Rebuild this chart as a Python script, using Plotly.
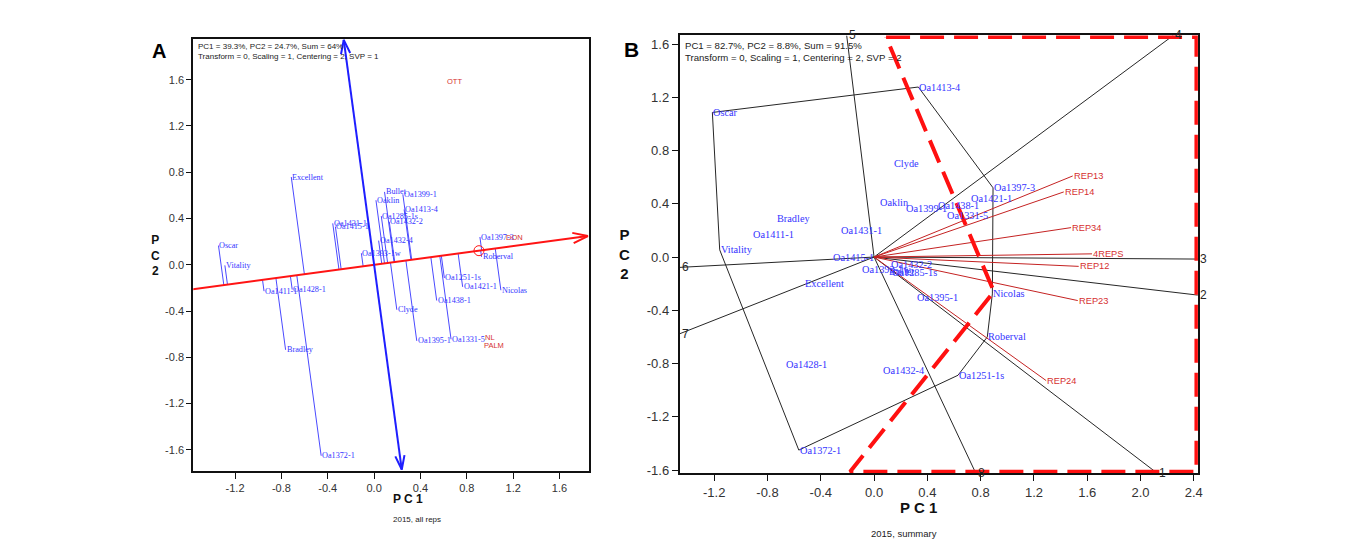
import math
import plotly.graph_objects as go

# ---------------- data ----------------
genotypes = ["Excellent", "Oscar", "Vitality", "Oa1431-1", "Oa1415-1", "Oa1411-1", "Oa1428-1",
             "Bradley", "Oa1372-1", "Bullet", "Oa1399-1", "Oaklin", "Oa1413-4", "Oa1285-1s",
             "Oa1432-2", "Oa1432-4", "Oa1393-1w", "Oa1397-3", "Roberval", "Nicolas", "Oa1251-1s",
             "Oa1421-1", "Oa1438-1", "Clyde", "Oa1395-1", "Oa1331-5"]

# Panel A: 2015, all reps (mean vs. stability view)
a_pc1 = [-0.715, -1.343, -1.288, -0.357, -0.334, -0.950, -0.707, -0.764, -0.457, 0.090, 0.248,
         0.016, 0.259, 0.062, 0.131, 0.039, -0.110, 0.913, 0.927, 1.094, 0.606, 0.764, 0.540,
         0.196, 0.368, 0.664]
a_pc2 = [0.759, 0.166, -0.005, 0.358, 0.330, -0.228, -0.214, -0.735, -1.651, 0.630, 0.609,
         0.558, 0.478, 0.421, 0.372, 0.209, 0.100, 0.240, 0.069, -0.220, -0.114, -0.191, -0.309,
         -0.389, -0.658, -0.644]
a_env = ["OTT", "DON", "NL", "PALM"]
a_env_pc1 = [0.617, 1.128, 0.950, 0.942]
a_env_pc2 = [1.588, 0.235, -0.629, -0.700]
a_mean_env = [0.905, 0.122]          # average environment (small circle)
a_aec_pc1_limits = [-1.60, 1.845]    # extent of the average-environment axis (PC1)
a_perp_pc2_limits = [-1.77, 1.945]   # extent of the perpendicular axis (PC2)
a_header = ["PC1 = 39.3%, PC2 = 24.7%, Sum = 64%",
            "Transform = 0, Scaling = 1, Centering = 2, SVP = 1"]

# Panel B: 2015, summary (which-won-where view)
b_pc1 = [-0.528, -1.214, -1.159, -0.259, -0.316, -0.915, -0.666, -0.733, -0.565, 0.105, 0.232,
         0.037, 0.332, 0.125, 0.117, 0.058, -0.097, 0.893, 0.850, 0.888, 0.630, 0.723, 0.469,
         0.145, 0.314, 0.539]
b_pc2 = [-0.195, 1.086, 0.054, 0.198, 0.000, 0.166, -0.808, 0.290, -1.450, -0.110, 0.365,
         0.407, 1.277, -0.118, -0.055, -0.849, -0.095, 0.520, -0.600, -0.277, -0.888, 0.439,
         0.389, 0.700, -0.301, 0.315]
b_env = ["REP13", "REP14", "REP34", "4REPS", "REP12", "REP23", "REP24"]
b_env_pc1 = [1.491, 1.424, 1.479, 1.636, 1.536, 1.529, 1.292]
b_env_pc2 = [0.609, 0.489, 0.221, 0.024, -0.070, -0.327, -0.928]
b_hull = ["Roberval", "Oa1251-1s", "Oa1372-1", "Vitality", "Oscar", "Oa1413-4", "Oa1397-3", "Nicolas"]
b_ray_labels = ["1", "8", "7", "6", "5", "4", "3", "2"]
b_sector_pc1 = [0.09, 2.42, 2.42, -0.18, 0.90, 0.09]
b_sector_pc2 = [1.652, 1.652, -1.612, -1.612, -0.26, 1.652]
b_header = ["PC1 = 82.7%, PC2 = 8.8%, Sum = 91.5%",
            "Transform = 0, Scaling = 1, Centering = 2, SVP = 2"]

a_xticks = [-1.2, -0.8, -0.4, 0.0, 0.4, 0.8, 1.2, 1.6]
a_yticks = [-1.6, -1.2, -0.8, -0.4, 0.0, 0.4, 0.8, 1.2, 1.6]
b_xticks = [-1.2, -0.8, -0.4, 0.0, 0.4, 0.8, 1.2, 1.6, 2.0, 2.4]
b_yticks = [-1.6, -1.2, -0.8, -0.4, 0.0, 0.4, 0.8, 1.2, 1.6]

# ---------------- layout geometry ----------------
W, H = 1360, 558
A_X, A_Y = [-1.5606, 1.853], [-1.7794, 1.9545]
B_X, B_Y = [-1.4585, 2.4308], [-1.6242, 1.6644]
A_DOM_X = [194 / W, 591 / W]
A_DOM_Y = [1 - 474 / H, 1 - 39 / H]
B_DOM_X = [682.3 / W, 1202.3 / W]
B_DOM_Y = [1 - 476.7 / H, 1 - 35.7 / H]

BLUE_TXT = "#3434ff"
BLUE_LN = "#4a4aff"
BLUE_AX = "#1e1eff"
RED_AX = "#ff1414"
RED_TXT = "#d63030"
RED_VEC = "#c42222"
BLACK = "#262626"

fig = go.Figure()
ann = []


def line(x, y, color, width, xa, ya, dash=None):
    fig.add_trace(go.Scatter(x=x, y=y, mode="lines", xaxis=xa, yaxis=ya, hoverinfo="skip",
                             line=dict(color=color, width=width, dash=dash), showlegend=False))


def vhead(tip, d, L, Hh):
    nx, ny = -d[1], d[0]
    bx, by = tip[0] - L * d[0], tip[1] - L * d[1]
    return ([bx + Hh * nx, tip[0], bx - Hh * nx], [by + Hh * ny, tip[1], by - Hh * ny])


def label(x, y, text, xref, yref, size, color, family, xanchor="left", xshift=0, yshift=0):
    ann.append(dict(x=x, y=y, xref=xref, yref=yref, text=text, showarrow=False,
                    xanchor=xanchor, yanchor="middle", xshift=xshift, yshift=yshift,
                    font=dict(size=size, color=color, family=family), borderpad=0))


# ---------------- Panel A ----------------
s = a_mean_env[1] / a_mean_env[0]
nrm = math.sqrt(1 + s * s)
u = (1 / nrm, s / nrm)
# projection lines genotype -> average environment axis
for gx, gy in zip(a_pc1, a_pc2):
    t = (gx + s * gy) / (1 + s * s)
    line([gx, t], [gy, s * t], BLUE_LN, 1, "x", "y")
# average environment axis with arrow
line([a_aec_pc1_limits[0], a_aec_pc1_limits[1]], [s * a_aec_pc1_limits[0], s * a_aec_pc1_limits[1]],
     RED_AX, 2, "x", "y")
hx, hy = vhead((a_aec_pc1_limits[1], s * a_aec_pc1_limits[1]), u, 0.13, 0.045)
line(hx, hy, RED_AX, 2, "x", "y")
# perpendicular axis with arrows at both ends
v = (-s / nrm, 1 / nrm)
top = (-s * a_perp_pc2_limits[1], a_perp_pc2_limits[1])
bot = (-s * a_perp_pc2_limits[0], a_perp_pc2_limits[0])
line([bot[0], top[0]], [bot[1], top[1]], BLUE_AX, 2, "x", "y")
hx, hy = vhead(top, v, 0.12, 0.04)
line(hx, hy, BLUE_AX, 2, "x", "y")
hx, hy = vhead(bot, (-v[0], -v[1]), 0.12, 0.04)
line(hx, hy, BLUE_AX, 2, "x", "y")
# average environment marker
fig.add_trace(go.Scatter(x=[a_mean_env[0]], y=[a_mean_env[1]], mode="markers", xaxis="x", yaxis="y",
                         marker=dict(symbol="circle-open", size=10, color=RED_AX, line=dict(width=1)),
                         hoverinfo="skip", showlegend=False))
for name, gx, gy in zip(genotypes, a_pc1, a_pc2):
    label(gx, gy, name, "x", "y", 8.2, BLUE_TXT, "Liberation Serif")
for name, ex, ey in zip(a_env, a_env_pc1, a_env_pc2):
    label(ex, ey, name, "x", "y", 7.5, RED_TXT, "Liberation Sans")

# ---------------- Panel B ----------------
pos = {g: (x, y) for g, x, y in zip(genotypes, b_pc1, b_pc2)}
hx_ = [pos[g][0] for g in b_hull] + [pos[b_hull[0]][0]]
hy_ = [pos[g][1] for g in b_hull] + [pos[b_hull[0]][1]]
line(hx_, hy_, BLACK, 1, "x2", "y2")
for i, lab in enumerate(b_ray_labels):
    p = pos[b_hull[i]]
    q = pos[b_hull[(i + 1) % len(b_hull)]]
    dx, dy = q[0] - p[0], q[1] - p[1]
    k = (p[0] * dx + p[1] * dy) / (dx * dx + dy * dy)
    fx, fy = p[0] - k * dx, p[1] - k * dy
    r = math.hypot(fx, fy)
    rx, ry = fx / r, fy / r
    ts = []
    if rx > 0: ts.append(B_X[1] / rx)
    if rx < 0: ts.append(B_X[0] / rx)
    if ry > 0: ts.append(B_Y[1] / ry)
    if ry < 0: ts.append(B_Y[0] / ry)
    tm = min(ts)
    line([0, tm * rx], [0, tm * ry], BLACK, 1, "x2", "y2")
    label(tm * rx, tm * ry, lab, "x2", "y2", 12, BLACK, "Liberation Sans", xshift=1)
for name, ex, ey in zip(b_env, b_env_pc1, b_env_pc2):
    line([0, ex], [0, ey], RED_VEC, 1, "x2", "y2")
    label(ex, ey, name, "x2", "y2", 9.3, RED_TXT, "Liberation Sans")
for name, gx, gy in zip(genotypes, b_pc1, b_pc2):
    label(gx, gy, name, "x2", "y2", 10.3, BLUE_TXT, "Liberation Serif")
line(b_sector_pc1, b_sector_pc2, "#ff1010", 4, "x2", "y2", dash="24px,10px")

# ---------------- text ----------------
ann.append(dict(x=196.5 / W, y=1 - 40 / H, xref="paper", yref="paper", xanchor="left", yanchor="top",
                align="left", showarrow=False, text="<br>".join(a_header),
                font=dict(size=8, color="#222", family="Liberation Sans")))
ann.append(dict(x=685.5 / W, y=1 - 38 / H, xref="paper", yref="paper", xanchor="left", yanchor="top",
                align="left", showarrow=False, text="<br>".join(b_header),
                font=dict(size=9.6, color="#222", family="Liberation Sans")))
for txt, px, py, sz in [("A", 151, 38, 20), ("B", 634, 36, 21)]:
    ann.append(dict(x=px / W, y=1 - py / H, xref="paper", yref="paper", showarrow=False,
                    text="<b>%s</b>" % txt, font=dict(size=sz, color="black", family="Liberation Sans")))
for txt, px, py, sz in [("P C 1", 392.5, 512, 12), ("P<br>C<br>2", 150, 257, 12),
                        ("P C 1", 942, 522, 15), ("P<br>C<br>2", 627, 256, 15)]:
    ann.append(dict(x=px / W, y=1 - py / H, xref="paper", yref="paper", showarrow=False,
                    text="<b>%s</b>" % txt, font=dict(size=sz, color="#111", family="Liberation Sans")))
ann.append(dict(x=392.5 / W, y=1 - 530 / H, xref="paper", yref="paper", showarrow=False,
                text="2015, all reps", font=dict(size=8, color="#222", family="Liberation Sans")))
ann.append(dict(x=942 / W, y=1 - 545 / H, xref="paper", yref="paper", showarrow=False,
                text="2015, summary", font=dict(size=9.5, color="#222", family="Liberation Sans")))


def axis(dom, rng, ticks, size, anchor, tl):
    return dict(domain=dom, range=rng, tickvals=ticks, ticktext=["%.1f" % t for t in ticks],
                showgrid=False, zeroline=False, showline=True, mirror=True, linecolor="#111",
                linewidth=2, ticks="outside", ticklen=tl, tickwidth=1, tickcolor="#111",
                tickfont=dict(size=size, color="#333", family="Liberation Sans"), anchor=anchor,
                fixedrange=True)


fig.update_layout(
    width=W, height=H, autosize=False, margin=dict(l=0, r=0, t=0, b=0),
    paper_bgcolor="white", plot_bgcolor="white", showlegend=False,
    xaxis=axis(A_DOM_X, A_X, a_xticks, 11, "y", 6),
    yaxis=axis(A_DOM_Y, A_Y, a_yticks, 11, "x", 5),
    xaxis2=axis(B_DOM_X, B_X, b_xticks, 13, "y2", 6),
    yaxis2=axis(B_DOM_Y, B_Y, b_yticks, 13, "x2", 6),
    annotations=ann,
)

fig.write_html("out.html", config={"displayModeBar": False},
               post_script="document.body.style.margin='0px';"
                           "document.documentElement.style.overflow='hidden';"
                           "document.body.style.overflow='hidden';")
